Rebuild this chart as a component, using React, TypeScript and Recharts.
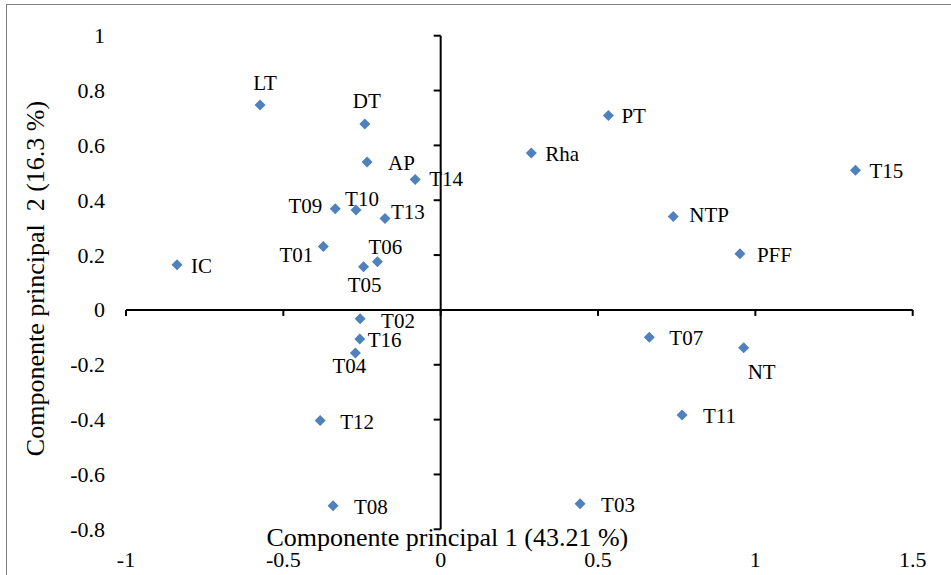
import React from 'react';
import {
    ScatterChart, Scatter, XAxis, YAxis, ReferenceLine, ReferenceDot, Label,
} from 'recharts';

// Scores of each sample on the first two principal components
const names = [
    'LT', 'DT', 'AP', 'T14', 'T09', 'T10', 'T13', 'T01', 'T06', 'T05', 'IC',
    'PT', 'Rha', 'T15', 'NTP', 'PFF',
    'T02', 'T16', 'T04', 'T12', 'T08', 'T07', 'NT', 'T11', 'T03',
];
const pc1 = [
    -0.574, -0.241, -0.234, -0.081, -0.335, -0.269, -0.177, -0.373, -0.201, -0.245, -0.838,
    0.533, 0.288, 1.318, 0.739, 0.951,
    -0.256, -0.257, -0.271, -0.383, -0.342, 0.663, 0.963, 0.767, 0.443,
];
const pc2 = [
    0.747, 0.678, 0.539, 0.476, 0.369, 0.364, 0.333, 0.231, 0.176, 0.157, 0.165,
    0.709, 0.572, 0.509, 0.341, 0.205,
    -0.032, -0.106, -0.157, -0.403, -0.714, -0.1, -0.138, -0.383, -0.707,
];
const xTicks = [-1, -0.5, 0, 0.5, 1, 1.5];
const yTicks = [-0.8, -0.6, -0.4, -0.2, 0, 0.2, 0.4, 0.6, 0.8, 1];

const xTitle = 'Componente principal 1 (43.21 %)';
const yTitle = 'Componente principal  2 (16.3 %)';

const data = names.map((name, i) => ({ name, x: pc1[i], y: pc2[i] }));

// where each label sits relative to its marker: dx, dy (baseline), anchor
const labelPos: Record<string, [number, number, string]> = {
    IC: [14, 8, 'start'],
    LT: [5, -15, 'middle'],
    DT: [2, -16, 'middle'],
    AP: [21, 8, 'start'],
    T14: [14, 7, 'start'],
    T09: [-13, 4, 'end'],
    T10: [6, -4, 'middle'],
    T13: [6, 0, 'start'],
    T01: [-10, 15, 'end'],
    T06: [8, -8, 'middle'],
    T05: [1, 25, 'middle'],
    PT: [13, 8, 'start'],
    Rha: [14, 8, 'start'],
    T15: [14, 8, 'start'],
    NTP: [16, 6, 'start'],
    PFF: [17, 8, 'start'],
    T02: [21, 9, 'start'],
    T16: [8, 8, 'start'],
    T04: [-6, 20, 'middle'],
    T12: [20, 9, 'start'],
    T08: [21, 8, 'start'],
    T07: [20, 8, 'start'],
    NT: [18, 31, 'middle'],
    T11: [21, 8, 'start'],
    T03: [21, 8, 'start'],
};

const FONT = "'Liberation Serif', 'DejaVu Serif', serif";
const textStyle = { fontFamily: FONT };

const Diamond = (props: any) => {
    const { cx, cy, payload } = props;
    const r = 5.5;
    const pos = labelPos[payload.name] || [14, 8, 'start'];
    return (
        <g>
            <path d={`M${cx},${cy - r}L${cx + r},${cy}L${cx},${cy + r}L${cx - r},${cy}Z`} fill="#4F81BD" />
            <text x={cx + pos[0]} y={cy + pos[1]} textAnchor={pos[2] as any} fontSize={21} style={textStyle} fill="#000">
                {payload.name}
            </text>
        </g>
    );
};

const XTick = ({ x, y, payload }: any) => (
    <text x={x} y={y + 37.5} textAnchor="middle" fontSize={22} style={textStyle} fill="#000">
        {String(payload.value)}
    </text>
);

const YTick = ({ x, y, payload }: any) => (
    <text x={x - 21} y={y + 7.5} textAnchor="end" fontSize={22} style={textStyle} fill="#000">
        {String(payload.value)}
    </text>
);

const XTitle = ({ viewBox }: any) => (
    <text x={viewBox.x + viewBox.width / 2 - 72} y={viewBox.y + 17} textAnchor="middle" fontSize={26} style={{ ...textStyle, whiteSpace: 'pre' }} fill="#000">
        {xTitle}
    </text>
);

const YTitle = ({ viewBox }: any) => {
    const cx = 44;
    const cy = viewBox.y + viewBox.height / 2 - 4;
    return (
        <text x={cx} y={cy} transform={`rotate(-90, ${cx}, ${cy})`} textAnchor="middle" fontSize={26} style={{ ...textStyle, whiteSpace: 'pre' }} fill="#000">
            {yTitle}
        </text>
    );
};

const App = () => {
    return (
        <div style={{ position: 'absolute', left: 0, top: 0, width: 951, height: 575, overflow: 'hidden', background: '#fff', fontFamily: FONT }}>
            <div style={{ position: 'absolute', left: 6, top: 4, width: 980, height: 620, border: '1.5px solid #7f7f7f' }} />
            <div style={{ position: 'absolute', left: 0, top: 0 }}>
                <ScatterChart width={951} height={575} margin={{ top: 35.7, right: 38.3, bottom: 0, left: 0 }}>
                    <XAxis
                        type="number"
                        dataKey="x"
                        domain={[-1, 1.5]}
                        ticks={xTicks}
                        interval={0}
                        axisLine={false}
                        tickLine={false}
                        tickSize={0}
                        tickMargin={0}
                        height={45.7}
                        tick={<XTick />}
                    >
                        <Label content={<XTitle />} />
                    </XAxis>
                    <YAxis
                        type="number"
                        dataKey="y"
                        domain={[-0.8, 1]}
                        ticks={yTicks}
                        interval={0}
                        axisLine={false}
                        tickLine={false}
                        tickSize={0}
                        tickMargin={0}
                        width={126}
                        tick={<YTick />}
                    >
                        <Label content={<YTitle />} />
                    </YAxis>
                    <ReferenceLine x={0} stroke="#000" strokeWidth={2} />
                    <ReferenceLine y={0} stroke="#000" strokeWidth={2} />
                    {xTicks.map((v) => (
                        <ReferenceDot
                            key={`xt${v}`}
                            x={v}
                            y={0}
                            r={1}
                            ifOverflow="visible"
                            shape={(p: any) => (
                                <line x1={p.cx} y1={p.cy} x2={p.cx} y2={p.cy + 6} stroke="#000" strokeWidth={2} />
                            )}
                        />
                    ))}
                    {yTicks.map((v) => (
                        <ReferenceDot
                            key={`yt${v}`}
                            x={0}
                            y={v}
                            r={1}
                            ifOverflow="visible"
                            shape={(p: any) => (
                                <line x1={p.cx - 7} y1={p.cy} x2={p.cx} y2={p.cy} stroke="#000" strokeWidth={2} />
                            )}
                        />
                    ))}
                    <Scatter data={data} shape={<Diamond />} isAnimationActive={false} />
                </ScatterChart>
            </div>
        </div>
    );
};

export default App;
